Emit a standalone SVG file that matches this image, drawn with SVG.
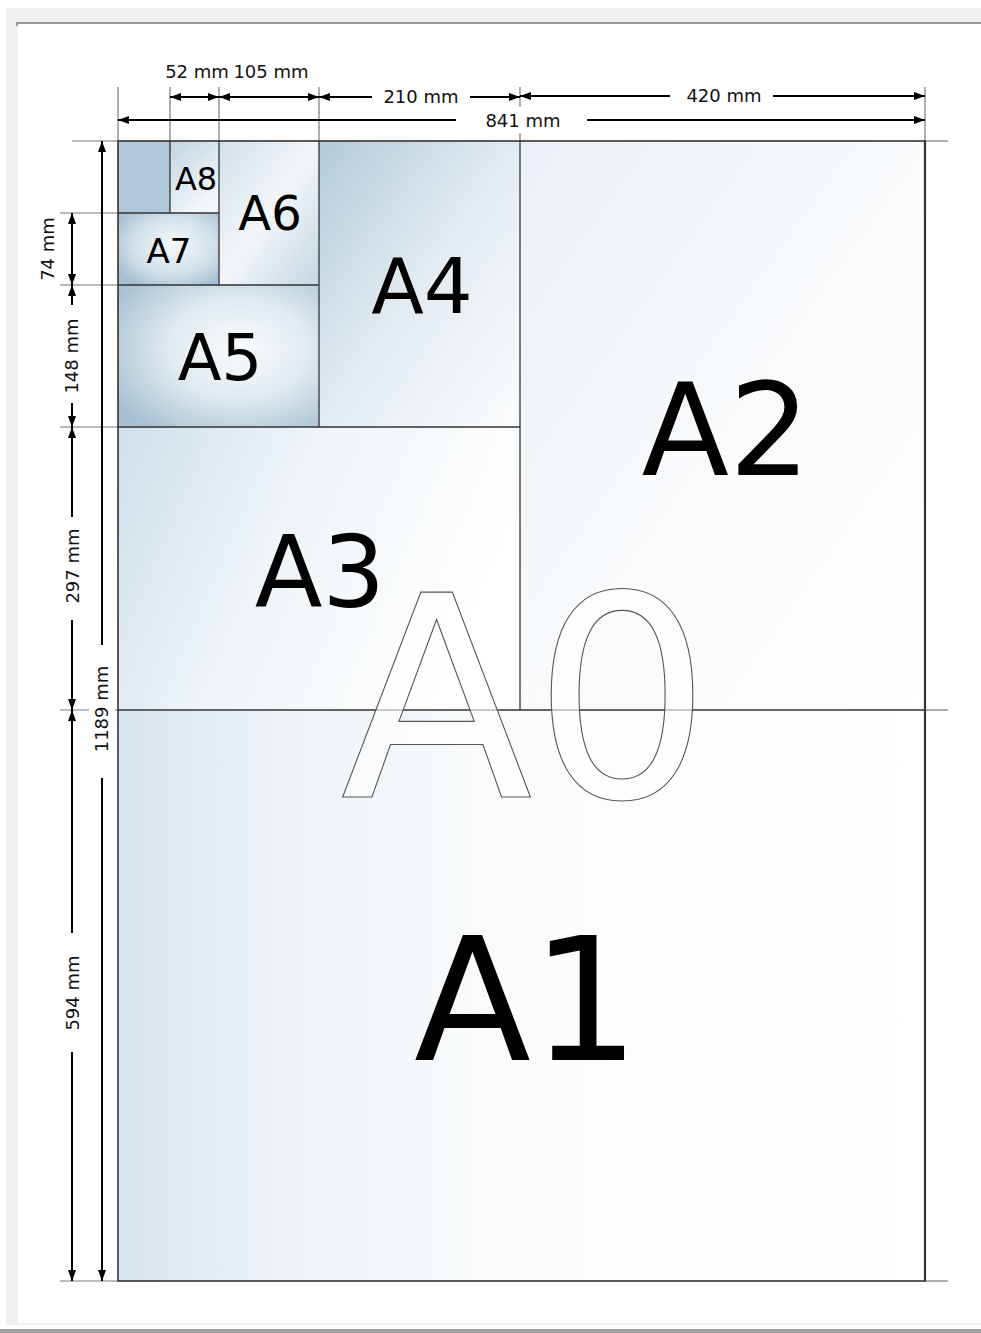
<svg xmlns="http://www.w3.org/2000/svg" width="981" height="1333" viewBox="0 0 981 1333">
<style>
.lbl{font-family:"DejaVu Sans","Liberation Sans",sans-serif;fill:#000;text-anchor:middle}
.dim{font-family:"DejaVu Sans","Liberation Sans",sans-serif;font-size:18px;fill:#111;text-anchor:middle}
.ext{stroke:#7a7a7a;stroke-width:1.2;fill:none}
.edge{stroke:#333;stroke-width:1.3;fill:none}
.arr{stroke:#000;stroke-width:2;fill:none}
.arrs{marker-start:url(#ah)}
.arre{marker-end:url(#ah)}
.bg{fill:#ffffff}
</style>
<defs>
<marker id="ah" markerUnits="userSpaceOnUse" markerWidth="11" markerHeight="8" refX="11" refY="4" orient="auto-start-reverse">
<path d="M0,0 L11,4 L0,8 z" fill="#000"/>
</marker>
<linearGradient id="gA1" x1="0" y1="0" x2="1" y2="0">
<stop offset="0" stop-color="#d9e5ee"/><stop offset="0.2" stop-color="#edf3f7"/><stop offset="0.5" stop-color="#fbfcfd"/><stop offset="1" stop-color="#ffffff"/>
</linearGradient>
<linearGradient id="gA2" x1="0" y1="0" x2="1" y2="1">
<stop offset="0" stop-color="#eaf1f6"/><stop offset="0.5" stop-color="#f8fafc"/><stop offset="1" stop-color="#ffffff"/>
</linearGradient>
<linearGradient id="gA3" x1="0" y1="0" x2="1" y2="0.3">
<stop offset="0" stop-color="#cfdfe9"/><stop offset="0.45" stop-color="#eef4f8"/><stop offset="1" stop-color="#ffffff"/>
</linearGradient>
<linearGradient id="gA4" x1="0" y1="0" x2="1" y2="1">
<stop offset="0" stop-color="#b3cad9"/><stop offset="0.5" stop-color="#e3ecf2"/><stop offset="1" stop-color="#fbfcfd"/>
</linearGradient>
<radialGradient id="gA5" cx="0.6" cy="0.45" r="0.7">
<stop offset="0" stop-color="#fafcfd"/><stop offset="0.5" stop-color="#e0eaf0"/><stop offset="1" stop-color="#a9c2d2"/>
</radialGradient>
<linearGradient id="gA6" x1="0" y1="0" x2="1" y2="1">
<stop offset="0" stop-color="#d3e1ea"/><stop offset="0.5" stop-color="#f2f6f9"/><stop offset="1" stop-color="#c4d6e1"/>
</linearGradient>
<radialGradient id="gA7" cx="0.55" cy="0.45" r="0.65">
<stop offset="0" stop-color="#f4f8fa"/><stop offset="0.6" stop-color="#d3e1ea"/><stop offset="1" stop-color="#a6c0d1"/>
</radialGradient>
<linearGradient id="gA8" x1="0" y1="0" x2="0.6" y2="1">
<stop offset="0" stop-color="#c3d6e2"/><stop offset="1" stop-color="#f3f7f9"/>
</linearGradient>
</defs>
<rect x="0" y="0" width="981" height="1333" fill="#ffffff"/>
<g id="frame">
<rect x="6" y="8" width="975" height="1317" fill="#efefef"/>
<rect x="18" y="24" width="963" height="1299" fill="#ffffff"/>
<rect x="16" y="22" width="965" height="2" fill="#9a9a9a"/>
<rect x="16" y="22" width="2" height="4" fill="#9a9a9a"/>
<rect x="18" y="1323" width="963" height="2" fill="#efefef"/>
<rect x="0" y="1329" width="981" height="4" fill="#a0a0a0"/>
</g>
<g id="sheets">
<g id="A1"><rect x="118" y="710" width="807" height="571" fill="url(#gA1)"/></g>
<g id="A2"><rect x="520" y="141" width="405" height="569" fill="url(#gA2)"/></g>
<g id="A3"><rect x="118" y="427" width="402" height="283" fill="url(#gA3)"/></g>
<g id="A4"><rect x="319" y="141" width="201" height="286" fill="url(#gA4)"/></g>
<g id="A5"><rect x="118" y="285" width="201" height="142" fill="url(#gA5)"/></g>
<g id="A6"><rect x="219" y="141" width="100" height="144" fill="url(#gA6)"/></g>
<g id="A7"><rect x="118" y="213" width="101" height="72" fill="url(#gA7)"/></g>
<g id="A8"><rect x="170" y="141" width="49" height="72" fill="url(#gA8)"/></g>
<g id="A8b"><rect x="118" y="141" width="52" height="72" fill="#afc7d6"/></g>
</g>
<g id="extension-lines">
<line class="ext" x1="118" y1="87" x2="118" y2="141"/>
<line class="ext" x1="170" y1="87" x2="170" y2="141"/>
<line class="ext" x1="219" y1="87" x2="219" y2="141"/>
<line class="ext" x1="319" y1="87" x2="319" y2="141"/>
<line class="ext" x1="520" y1="87" x2="520" y2="141"/>
<line class="ext" x1="925" y1="87" x2="925" y2="141"/>
<line class="ext" x1="72" y1="141" x2="118" y2="141"/>
<line class="ext" x1="925" y1="141" x2="948" y2="141"/>
<line class="ext" x1="60" y1="213" x2="118" y2="213"/>
<line class="ext" x1="60" y1="285" x2="118" y2="285"/>
<line class="ext" x1="60" y1="427" x2="118" y2="427"/>
<line class="ext" x1="60" y1="710" x2="118" y2="710"/>
<line class="ext" x1="925" y1="710" x2="948" y2="710"/>
<line class="ext" x1="60" y1="1281" x2="118" y2="1281"/>
<line class="ext" x1="925" y1="1281" x2="948" y2="1281"/>
</g>
<g id="edges">
<line class="edge" x1="118" y1="213" x2="219" y2="213"/>
<line class="edge" x1="170" y1="141" x2="170" y2="213"/>
<line class="edge" x1="219" y1="141" x2="219" y2="285"/>
<line class="edge" x1="118" y1="285" x2="319" y2="285"/>
<line class="edge" x1="319" y1="141" x2="319" y2="427"/>
<line class="edge" x1="118" y1="427" x2="520" y2="427"/>
<line class="edge" x1="520" y1="141" x2="520" y2="710"/>
<line class="edge" x1="118" y1="710" x2="925" y2="710"/>
<rect x="118" y="141" width="807" height="1140" fill="none" stroke="#333" stroke-width="1.6"/>
<line x1="925" y1="141" x2="925" y2="1281" stroke="#333" stroke-width="2.2"/>
</g>
<g id="labels">
<text class="lbl" x="196" y="190" font-size="32">A8</text>
<text class="lbl" x="169" y="263" font-size="34">A7</text>
<text class="lbl" x="270" y="230" font-size="48">A6</text>
<text class="lbl" x="220" y="380" font-size="64">A5</text>
<text class="lbl" x="422" y="313" font-size="77">A4</text>
<text class="lbl" x="320" y="607" font-size="99">A3</text>
<text class="lbl" x="726" y="475" font-size="128">A2</text>
<text class="lbl" x="527" y="1060" font-size="171">A1</text>
<text x="526" y="797" font-family="DejaVu Sans, Liberation Sans, sans-serif" font-size="281" text-anchor="middle" fill="#ffffff" fill-opacity="0.65" stroke="#555" stroke-width="1.1">A0</text>
</g>
<g id="connectors">
<line class="arr arrs arre" x1="170" y1="97" x2="219" y2="97"/>
<line class="arr arrs arre" x1="219" y1="97" x2="319" y2="97"/>
<line class="arr arrs" x1="319" y1="97" x2="372" y2="97"/>
<line class="arr arre" x1="470" y1="97" x2="520" y2="97"/>
<line class="arr arrs" x1="520" y1="96" x2="670" y2="96"/>
<line class="arr arre" x1="773" y1="96" x2="925" y2="96"/>
<line class="arr arrs" x1="118" y1="120" x2="456" y2="120"/>
<line class="arr arre" x1="587" y1="120" x2="925" y2="120"/>
<line class="arr arrs arre" x1="72" y1="213" x2="72" y2="285"/>
<line class="arr arrs" x1="72" y1="285" x2="72" y2="305"/>
<line class="arr arre" x1="72" y1="403" x2="72" y2="427"/>
<line class="arr arrs" x1="72" y1="427" x2="72" y2="517"/>
<line class="arr arre" x1="72" y1="620" x2="72" y2="710"/>
<line class="arr arrs" x1="72" y1="710" x2="72" y2="933"/>
<line class="arr arre" x1="72" y1="1052" x2="72" y2="1281"/>
<line class="arr arrs" x1="102" y1="141" x2="102" y2="645"/>
<line class="arr arre" x1="102" y1="778" x2="102" y2="1281"/>
</g>
<g id="dimension-labels">
<rect class="bg" x="478" y="107" width="92" height="26"/>
<rect class="bg" x="89" y="660" width="26" height="98"/>
<text class="dim" x="197" y="78">52 mm</text>
<text class="dim" x="271" y="78">105 mm</text>
<text class="dim" x="421" y="103">210 mm</text>
<text class="dim" x="724" y="102">420 mm</text>
<text class="dim" x="523" y="127">841 mm</text>
<text class="dim" transform="translate(54,249) rotate(-90)">74 mm</text>
<text class="dim" transform="translate(78,356) rotate(-90)">148 mm</text>
<text class="dim" transform="translate(79,566) rotate(-90)">297 mm</text>
<text class="dim" transform="translate(79,993) rotate(-90)">594 mm</text>
<text class="dim" transform="translate(108,709) rotate(-90)">1189 mm</text>
</g>
</svg>
